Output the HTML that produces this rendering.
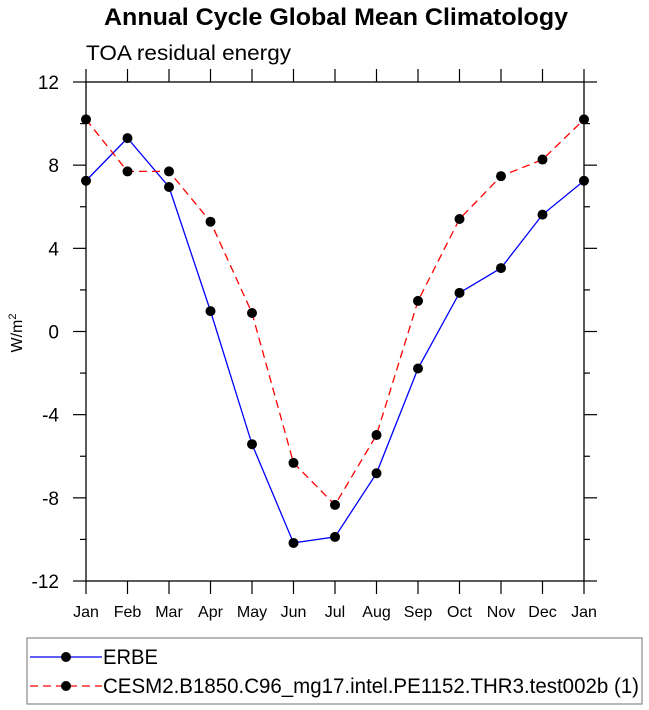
<!DOCTYPE html>
<html><head><meta charset="utf-8"><style>
body{margin:0;background:#fff;}
svg{display:block;font-family:"Liberation Sans",Arial,sans-serif;}
</style></head><body>
<svg id="chart" width="649" height="710">
<text x="104" y="25" font-size="24" font-weight="bold" textLength="464" lengthAdjust="spacingAndGlyphs">Annual Cycle Global Mean Climatology</text>
<text x="86" y="60" font-size="21" textLength="205" lengthAdjust="spacingAndGlyphs">TOA residual energy</text>
<text transform="translate(22,333) rotate(-90)" text-anchor="middle" font-size="16">W/m<tspan dy="-6" font-size="11">2</tspan></text>
<g id="axes"></g>
<g id="series"></g>
<rect x="27" y="638" width="615" height="66" fill="none" stroke="#888" stroke-width="1.2"/>
<g>
<line x1="30" y1="657" x2="102" y2="657" stroke="#0000ff" stroke-width="1.3"/>
<circle cx="66" cy="657" r="5" fill="#000"/>
<text x="103" y="664" font-size="21" textLength="55" lengthAdjust="spacingAndGlyphs">ERBE</text></g>
<g>
<line x1="30" y1="686" x2="102" y2="686" stroke="#ff0000" stroke-width="1.3" stroke-dasharray="8,5"/>
<circle cx="66" cy="686" r="5" fill="#000"/>
<text x="103" y="693" font-size="21" textLength="536" lengthAdjust="spacingAndGlyphs">CESM2.B1850.C96_mg17.intel.PE1152.THR3.test002b (1)</text></g>
</svg>
<script>
const months=["Jan","Feb","Mar","Apr","May","Jun","Jul","Aug","Sep","Oct","Nov","Dec","Jan"];
const erbe=[7.25,9.3,6.95,0.98,-5.42,-10.17,-9.88,-6.82,-1.78,1.86,3.05,5.62,7.25];
const cesm=[10.2,7.7,7.7,5.28,0.89,-6.32,-8.34,-4.98,1.47,5.41,7.47,8.27,10.2];
const yTicks=[-12,-8,-4,0,4,8,12];
const L=86,R=584,T=82,B=581,ymin=-12,ymax=12;
const NS="http://www.w3.org/2000/svg";
const xs=i=>L+(R-L)*i/(months.length-1);
const ys=v=>B-(v-ymin)/(ymax-ymin)*(B-T);
function mk(tag,attrs,parent){const e=document.createElementNS(NS,tag);for(const k in attrs)e.setAttribute(k,attrs[k]);parent.appendChild(e);return e;}
const ax=document.getElementById('axes');
const frame=mk('rect',{x:L,y:T,width:R-L,height:B-T,fill:'none',stroke:'#000','stroke-width':1.3},ax);


months.forEach((m,i)=>{
  const x=xs(i);
  mk('line',{x1:x,y1:B,x2:x,y2:B+13,stroke:'#000','stroke-width':1.2},ax);
  mk('line',{x1:x,y1:T,x2:x,y2:T-13,stroke:'#000','stroke-width':1.2},ax);
  const t=mk('text',{x:x,y:B+36,'text-anchor':'middle','font-size':16},ax);
  t.textContent=m;
  
  
});
for(let v=ymin;v<=ymax;v+=2){
  const y=ys(v),maj=(v%4===0),len=maj?13:6;
  mk('line',{x1:L,y1:y,x2:L-len,y2:y,stroke:'#000','stroke-width':1.2},ax);
  mk('line',{x1:R,y1:y,x2:R+len,y2:y,stroke:'#000','stroke-width':1.2},ax);
}
yTicks.forEach(v=>{
  const t=mk('text',{x:L-27,y:ys(v)+7,'text-anchor':'end','font-size':19},ax);
  t.textContent=v;
  
  
});
const sg=document.getElementById('series');
function draw(data,color,dash,name){
  const g=mk('g',{},sg);
  
  
  const p=mk('polyline',{points:data.map((v,i)=>xs(i)+','+ys(v)).join(' '),fill:'none',stroke:color,'stroke-width':1.3},g);
  if(dash)p.setAttribute('stroke-dasharray',dash);
  data.forEach((v,i)=>{const c=mk('circle',{cx:xs(i),cy:ys(v),r:5,fill:'#000'},g);
    
    });
}
draw(erbe,'#0000ff',null,'erbe-series');
draw(cesm,'#ff0000','8,5','cesm-series');
</script>
</body></html>
